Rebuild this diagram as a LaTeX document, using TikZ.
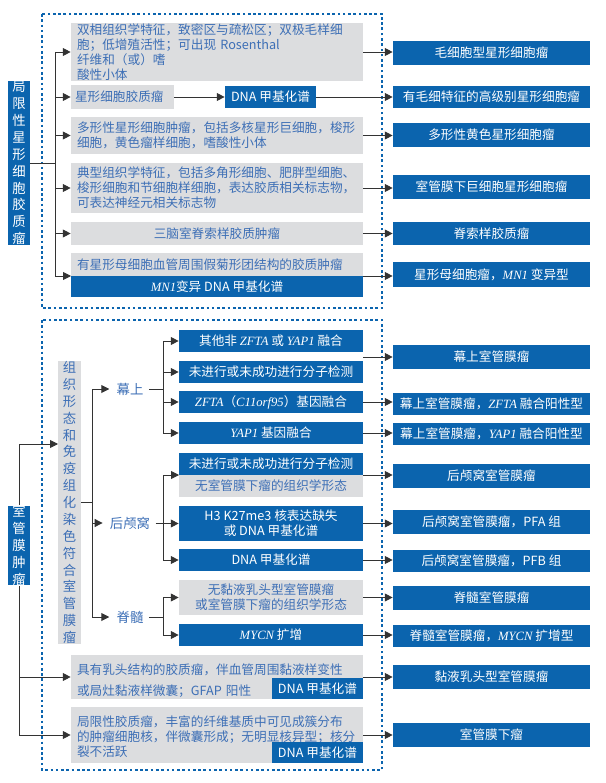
\documentclass[tikz,border=0pt]{standalone}
\usepackage{fontspec}
\setmainfont{Liberation Serif}
\newfontfamily\cjk{Noto Sans CJK SC}
\usetikzlibrary{arrows.meta,positioning}
\definecolor{mblue}{HTML}{0B64AE}
\definecolor{mgray}{HTML}{DCDDDF}
\definecolor{tblue}{HTML}{3D6FB6}
\definecolor{mline}{HTML}{333333}
\newcommand{\gene}[1]{{\rmfamily\itshape #1}}
\tikzset{
  every node/.style={font=\cjk\fontsize{7.2}{8.6}\selectfont, inner sep=0pt},
  bbox/.style={fill=mblue, text=white, minimum height=0.44cm, align=center},
  gbox/.style={fill=mgray, text=tblue, minimum height=0.46cm, align=left, text width=5.6cm},
  rbox/.style={fill=mblue, text=white, minimum width=3.94cm, minimum height=0.48cm, align=center},
  mbox/.style={bbox, minimum width=3.68cm},
  vbox/.style={minimum width=0.44cm, align=center, font=\cjk\fontsize{7.6}{9.6}\selectfont},
  lbl/.style={text=tblue, font=\cjk\fontsize{7.6}{9}\selectfont},
  arr/.style={-{Triangle[length=4.5pt,width=4.5pt]}, draw=mline, line width=0.5pt},
  ln/.style={draw=mline, line width=0.5pt},
  frame/.style={draw=mblue, dashed, line width=0.6pt, dash pattern=on 1.5pt off 1.5pt}
}
\begin{document}
\begin{tikzpicture}[x=0.02cm, y=-0.02cm]
  \useasboundingbox (0,0) rectangle (605,783);

  % dashed frames
  \draw[frame] (42,14) rectangle (382,308);
  \draw[frame] (42,320) rectangle (382,770);

  % upper block
  \node[vbox, bbox, minimum height=2.88cm] (astro) at (19,163)
    {局\\限\\性\\星\\形\\细\\胞\\胶\\质\\瘤};
  \node[gbox, minimum width=5.84cm, minimum height=1.0cm] (g1) at (217,52)
    {双相组织学特征，致密区与疏松区；双极毛样细\\胞；低增殖活性；可出现 Rosenthal 纤维和（或）嗜\\酸性小体};
  \node[gbox, text width=1.9cm, minimum width=2.06cm, minimum height=0.48cm] (g2) at (122.5,97) {星形细胞胶质瘤};
  \node[bbox, minimum width=1.82cm] (d2) at (270.5,97) {DNA 甲基化谱};
  \node[gbox, minimum width=5.84cm, minimum height=0.74cm] (g3) at (217,135.5)
    {多形性星形细胞肿瘤，包括多核星形巨细胞，梭形\\细胞，黄色瘤样细胞，嗜酸性小体};
  \node[gbox, minimum width=5.84cm, minimum height=1.0cm] (g4) at (217,188)
    {典型组织学特征，包括多角形细胞、肥胖型细胞、\\梭形细胞和节细胞样细胞，表达胶质相关标志物，\\可表达神经元相关标志物};
  \node[gbox, align=center, minimum width=5.84cm] (g5) at (217,233.5) {三脑室脊索样胶质肿瘤};
  \node[gbox, minimum width=5.84cm] (g6) at (217,264.5) {有星形母细胞血管周围假菊形团结构的胶质肿瘤};
  \node[mbox, minimum width=5.84cm, minimum height=0.42cm] (m6) at (217,286.5) {\gene{MN1}变异 DNA 甲基化谱};

  \node[rbox] (r1) at (491.5,53) {毛细胞型星形细胞瘤};
  \node[rbox, minimum height=0.44cm] (r2) at (491.5,97) {有毛细特征的高级别星形细胞瘤};
  \node[rbox] (r3) at (491.5,135) {多形性黄色星形细胞瘤};
  \node[rbox] (r4) at (491.5,187) {室管膜下巨细胞星形细胞瘤};
  \node[rbox, minimum height=0.46cm] (r5) at (491.5,233.5) {脊索样胶质瘤};
  \node[rbox, minimum height=0.5cm] (r6) at (491.5,274.5) {星形母细胞瘤，\gene{MN1} 变异型};

  \coordinate (tA) at (55,0);
  \coordinate (j6) at (71,276);
  \coordinate (k6) at (363,276);
  \draw[ln] (astro.east |- 0,163) -- (tA |- 0,163);
  \draw[ln] (tA |- g1.west) -- (tA |- j6);
  \foreach \n in {g1,g2,g3,g4,g5}
    \draw[arr] (tA |- \n.west) -- (\n.west);
  \draw[arr] (tA |- j6) -- (j6);
  \draw[arr] (g2) -- (d2);
  \draw[arr] (d2) -- (r2);
  \foreach \a/\b in {g1/r1,g3/r3,g4/r4,g5/r5}
    \draw[arr] (\a.east) -- (\b.west |- \a.east);
  \draw[arr] (k6) -- (r6.west |- k6);

  % lower block
  \node[vbox, bbox, minimum height=1.5cm] (epen) at (19,545.5) {室\\管\\膜\\肿\\瘤};
  \node[vbox, fill=mgray, text=tblue, minimum width=0.46cm, minimum height=4.78cm] (ihc) at (69.5,502.5)
    {组\\织\\形\\态\\和\\免\\疫\\组\\化\\染\\色\\符\\合\\室\\管\\膜\\瘤};
  \node[lbl] (sup) at (130,389) {幕上};
  \node[lbl] (pf) at (130,523) {后颅窝};
  \node[lbl] (sp) at (130,617) {脊髓};

  \node[mbox] (b1) at (271,341) {其他非 \gene{ZFTA} 或 \gene{YAP1} 融合};
  \node[mbox] (b2) at (271,372) {未进行或未成功进行分子检测};
  \node[mbox] (b3) at (271,402) {\gene{ZFTA}（\gene{C11orf95}）基因融合};
  \node[mbox] (b4) at (271,433) {\gene{YAP1} 基因融合};
  \node[mbox] (b5) at (271,464) {未进行或未成功进行分子检测};
  \node[gbox, align=center, text width=3.6cm, minimum width=3.68cm, minimum height=0.44cm] (b5g) at (271,486) {无室管膜下瘤的组织学形态};
  \node[mbox, minimum height=0.7cm] (b6) at (271,523.5) {H3 K27me3 核表达缺失\\或 DNA 甲基化谱};
  \node[mbox] (b7) at (271,560) {DNA 甲基化谱};
  \node[gbox, align=center, text width=3.6cm, minimum width=3.68cm, minimum height=0.7cm] (b8) at (271,597.5) {无黏液乳头型室管膜瘤\\或室管膜下瘤的组织学形态};
  \node[mbox] (b9) at (271,635) {\gene{MYCN} 扩增};

  \node[gbox, minimum width=5.84cm, minimum height=0.88cm, text depth=0.3cm] (h1) at (217,677)
    {具有乳头结构的胶质瘤，伴血管周围黏液样变性\\[3pt]或局灶黏液样微囊；GFAP 阳性};
  \node[bbox, minimum width=1.82cm, minimum height=0.42cm, anchor=south east] (h1d) at (h1.south east) {DNA 甲基化谱};
  \node[gbox, minimum width=5.84cm, minimum height=1.12cm, text depth=0.55cm] (h2) at (217,735)
    {局限性胶质瘤，丰富的纤维基质中可见成簇分布\\的肿瘤细胞核，伴微囊形成；无明显核异型；核分\\裂不活跃};
  \node[bbox, minimum width=1.82cm, minimum height=0.42cm, anchor=south east] (h2d) at (h2.south east) {DNA 甲基化谱};

  \node[rbox] (q1) at (491.5,357) {幕上室管膜瘤};
  \node[rbox, minimum height=0.44cm] (q2) at (491.5,404) {幕上室管膜瘤，\gene{ZFTA} 融合阳性型};
  \node[rbox, minimum height=0.44cm] (q3) at (491.5,434) {幕上室管膜瘤，\gene{YAP1} 融合阳性型};
  \node[rbox] (q4) at (491.5,476) {后颅窝室管膜瘤};
  \node[rbox] (q5) at (491.5,522) {后颅窝室管膜瘤，PFA 组};
  \node[rbox, minimum height=0.44cm] (q6) at (491.5,561) {后颅窝室管膜瘤，PFB 组};
  \node[rbox] (q7) at (491.5,598) {脊髓室管膜瘤};
  \node[rbox, minimum height=0.44cm] (q8) at (491.5,636) {脊髓室管膜瘤，\gene{MYCN} 扩增型};
  \node[rbox] (q9) at (491.5,677) {黏液乳头型室管膜瘤};
  \node[rbox] (q10) at (491.5,735) {室管膜下瘤};

  % connectors, lower block
  \coordinate (ihcin) at (58,444);
  \draw[arr] (epen.north) |- (ihcin);
  \draw[ln] (epen.south) -- (epen.south |- h2.west);
  \draw[arr] (epen.south |- h1.west) -- (h1.west);
  \draw[arr] (epen.south |- h2.west) -- (h2.west);

  \coordinate (tB) at (92,0);
  \draw[ln] (ihc.east) -- (tB |- ihc.east);
  \draw[ln] (tB |- sup.west) -- (tB |- sp.west);
  \foreach \n in {sup,pf,sp}
    \draw[arr] (tB |- \n.west) -- ([xshift=-4pt]\n.west);

  \coordinate (tC) at (163,0);
  \coordinate (j5) at (179,475);
  \draw[ln] ([xshift=3pt]sup.east) -- (tC |- sup.east);
  \draw[ln] ([xshift=3pt]pf.east) -- (tC |- pf.east);
  \draw[ln] ([xshift=3pt]sp.east) -- (tC |- sp.east);
  \draw[ln] (tC |- b1.west) -- (tC |- b4.west);
  \draw[ln] (tC |- j5) -- (tC |- b7.west);
  \draw[ln] (tC |- b8.west) -- (tC |- b9.west);
  \foreach \n in {b1,b2,b3,b4,b6,b7,b8,b9}
    \draw[arr] (tC |- \n.west) -- (\n.west);
  \draw[arr] (tC |- j5) -- (j5);

  \coordinate (k1) at (363,357);
  \coordinate (k5) at (363,475);
  \draw[arr] (k1) -- (q1.west |- k1);
  \draw[arr] (k5) -- (q4.west |- k5);
  \foreach \a/\b in {b3/q2,b4/q3,b6/q5,b7/q6,b8/q7,b9/q8,h1/q9,h2/q10}
    \draw[arr] (\a.east) -- (\b.west |- \a.east);
\end{tikzpicture}
\end{document}
